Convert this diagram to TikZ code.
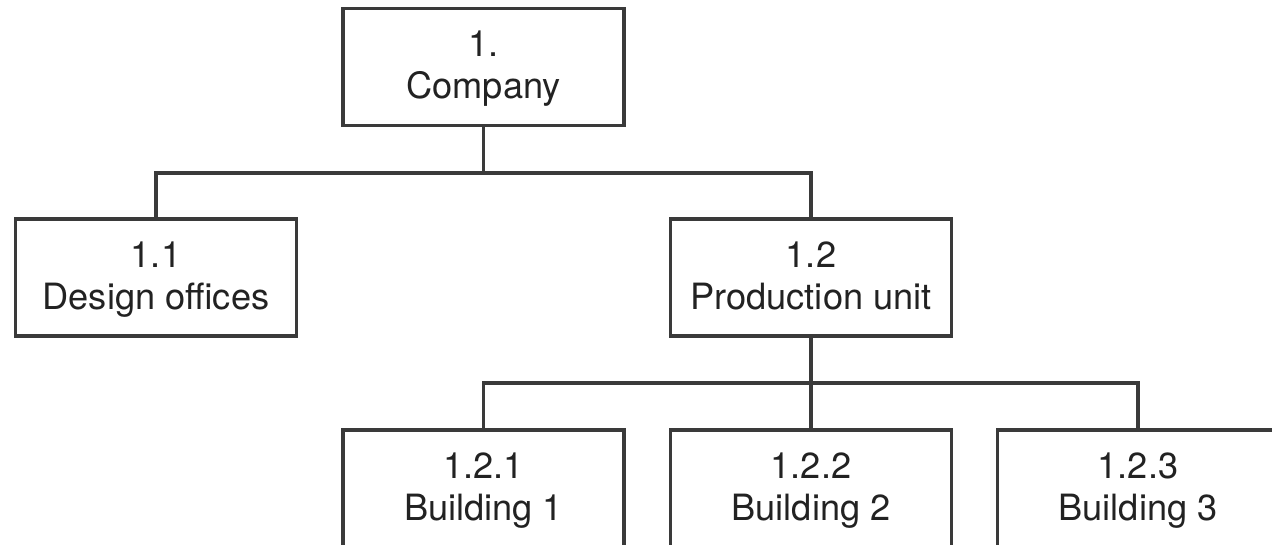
\documentclass[tikz,border=0pt]{standalone}
\usepackage{fontspec}
\setmainfont{TeX Gyre Heros}
\definecolor{linegray}{HTML}{3A3A3A}
\definecolor{textgray}{HTML}{222222}
\begin{document}
\begin{tikzpicture}[x=0.5pt,y=-0.5pt,
  unitbox/.style={draw=linegray, line width=1.6pt, rectangle,
    minimum width=140.5pt, minimum height=58.5pt, inner sep=0pt,
    align=center, text=textgray, text height=34pt, text depth=2.5pt,
    font=\fontsize{18.1}{21}\selectfont},
  link/.style={draw=linegray, line width=1.6pt}]
  \useasboundingbox (0,0) rectangle (1272,545);
  \clip (0,0) rectangle (1272,545);

  % top level
  \node[unitbox] (company) at (483.5,67) {1.\\Company};
  % second level
  \node[unitbox] (design) at (156,277.5) {1.1\\Design offices};
  \node[unitbox] (prod) at (811,277.5) {1.2\\Production unit};
  % third level (running off the lower edge)
  \node[unitbox] (b1) at (483.5,488.5) {1.2.1\\Building 1};
  \node[unitbox] (b2) at (811,488.5) {1.2.2\\Building 2};
  \node[unitbox] (b3) at (1138,488.5) {1.2.3\\Building 3};

  % bus lines
  \coordinate (bus1) at (483.5,173);
  \coordinate (bus2) at (811,383);
  \draw[link] (company.south) -- (bus1);
  \draw[link] (design.north) |- (bus1) -| (prod.north);
  \draw[link] (prod.south) -- (b2.north);
  \draw[link] (b1.north) |- (bus2) -| (b3.north);
\end{tikzpicture}
\end{document}
